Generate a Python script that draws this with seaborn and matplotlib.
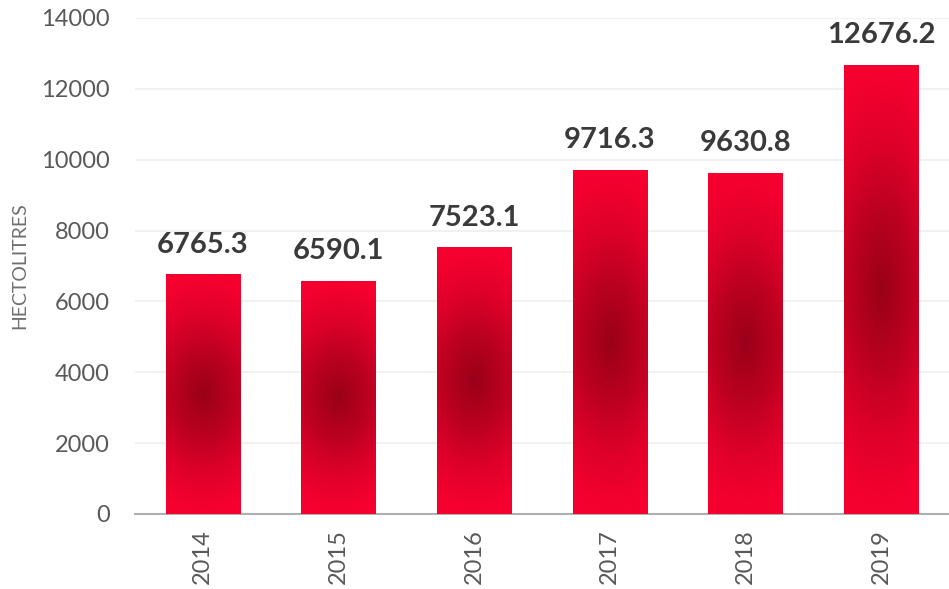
import numpy as np
import seaborn as sns
import matplotlib.pyplot as plt
from matplotlib.colors import LinearSegmentedColormap
import pandas as pd

# data
years = ["2014", "2015", "2016", "2017", "2018", "2019"]
volumes = [6765.3, 6590.1, 7523.1, 9716.3, 9630.8, 12676.2]

df = pd.DataFrame({"year": years, "volume": volumes})

sns.set_style("white")
plt.rcParams['font.family'] = ['Lato', 'DejaVu Sans']

fig = plt.figure(figsize=(9.49, 5.89), dpi=100)
ax = fig.add_axes([135 / 949, 1 - 514 / 589, 814 / 949, 496 / 589])

sns.barplot(data=df, x="year", y="volume", color="#f2002e", width=0.55,
            saturation=1, ax=ax, zorder=2)

# radial gradient inside each bar, dark in the middle
cmap = LinearSegmentedColormap.from_list("bar", ["#9a0019", "#b8001f", "#dc0029", "#f5002f"])
gx, gy = np.meshgrid(np.linspace(-1, 1, 80), np.linspace(-1, 1, 300))
for bar in ax.patches:
    x0, w = bar.get_x(), bar.get_width()
    h = bar.get_height()
    r = np.clip(np.sqrt((gx * 0.45) ** 2 + (gy * 1.05) ** 2), 0, 1)
    img = ax.imshow(r, cmap=cmap, vmin=0, vmax=1, aspect="auto", origin="lower",
                    extent=[x0, x0 + w, 0, h], zorder=3, interpolation="bilinear")
    img.set_clip_path(bar)
    bar.set_edgecolor("none")

for i, v in enumerate(volumes):
    ax.annotate(f"{v}", (i, v), xytext=(0, 12), textcoords="offset points",
                ha="center", va="bottom", fontsize=21, fontweight="bold",
                color="#3a3a3a", zorder=4)

ax.set_ylim(0, 14000)
ax.set_xlim(-0.5, 5.5)
ax.set_yticks(range(0, 14001, 2000))
ax.yaxis.grid(True, color="#efefef", linewidth=1.2, zorder=0)
ax.set_axisbelow(True)

for s in ["top", "right", "left"]:
    ax.spines[s].set_visible(False)
ax.spines["bottom"].set_color("#b0b0b0")
ax.spines["bottom"].set_linewidth(1.5)

ax.tick_params(axis="y", length=0, pad=18, labelsize=17, labelcolor="#595959")
ax.tick_params(axis="x", length=0, pad=11, labelsize=17, labelcolor="#595959",
               labelrotation=90)

ax.set_xlabel("")
ax.set_ylabel("HECTOLITRES", fontsize=14, color="#6f6f6f", labelpad=9)

fig.savefig("out.png", dpi=100)
